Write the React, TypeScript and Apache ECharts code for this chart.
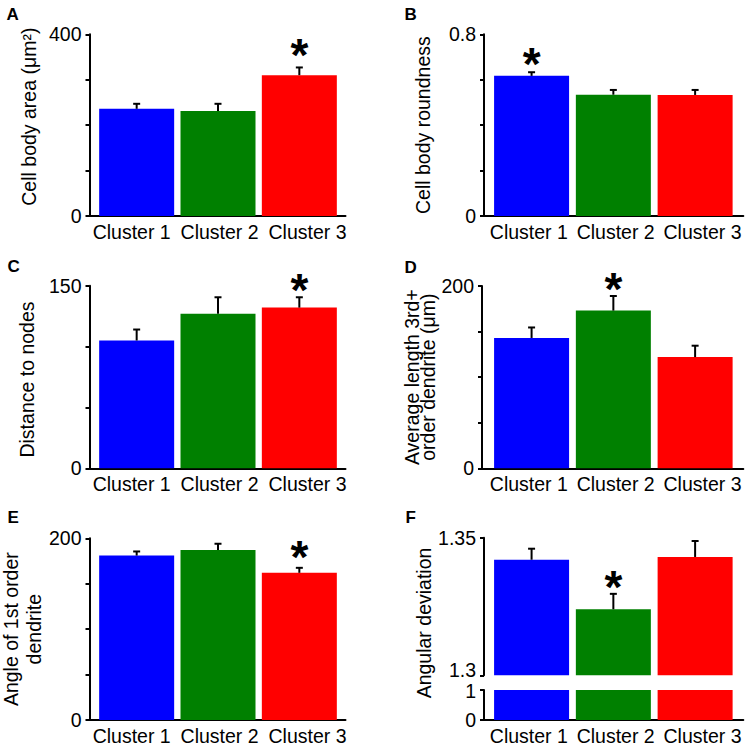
import React, { useEffect, useRef } from 'react';
import * as echarts from 'echarts';

const FONT = "'Liberation Sans', Arial, Helvetica, sans-serif";

const clusters = ['Cluster 1', 'Cluster 2', 'Cluster 3'];
const barColors = ['#0000ff', '#008000', '#ff0000'];

// Panel A
const cellBodyAreaMean = [236, 231, 310];
const cellBodyAreaSem = [11, 16, 17];
const cellBodyAreaTicks = [0, 400];
// Panel B
const roundnessMean = [0.617, 0.534, 0.533];
const roundnessSem = [0.016, 0.021, 0.022];
const roundnessTicks = [0, 0.8];
// Panel C
const distanceMean = [105, 127, 132];
const distanceSem = [9, 13.5, 8.5];
const distanceTicks = [0, 150];
// Panel D
const avgLengthMean = [143, 173, 122];
const avgLengthSem = [11.5, 16, 12.5];
const avgLengthTicks = [0, 200];
// Panel E
const angleMean = [181, 187, 162];
const angleSem = [4.5, 7, 5.5];
const angleTicks = [0, 200];
// Panel F (broken axis)
const angDevMean = [1.342, 1.324, 1.343];
const angDevSem = [0.004, 0.0056, 0.0058];
const angDevTicksTop = [1.3, 1.35];
const angDevTicksBottom = [0, 1];

const COLS: any = {
  L: { axisX: 89.5, axisEnd: 345.5, barsL: 96, barsW: 244, labL: 87.75, labW: 263.7 },
  R: { axisX: 484, axisEnd: 743.3, barsL: 490.7, barsW: 245.3, labL: 485.4, labW: 260.5 },
};

const fmt = (ticks: number[], shifted?: number, cls?: string) => (v: number) => {
  const t = ticks.find((x) => Math.abs(x - v) < 1e-9);
  if (t === undefined) return '';
  if (shifted !== undefined && Math.abs(t - shifted) < 1e-9) return '{' + cls + '|' + String(t) + '}';
  return String(t);
};

const makeErrRender = (starGap: number) => (params: any, api: any) => {
  const i = api.value(0);
  const m = api.value(1);
  const e = api.value(2);
  const sig = api.value(3);
  const p0 = api.coord([i, m]);
  const p1 = api.coord([i, m + e]);
  const children: any[] = [
    { type: 'line', shape: { x1: p0[0], y1: p0[1], x2: p1[0], y2: p1[1] }, style: { stroke: '#000', lineWidth: 2 } },
    { type: 'line', shape: { x1: p1[0] - 3.5, y1: p1[1], x2: p1[0] + 3.5, y2: p1[1] }, style: { stroke: '#000', lineWidth: 2 } },
  ];
  if (sig) {
    children.push({
      type: 'text',
      x: p1[0],
      y: p1[1] - starGap + 7.5,
      style: { text: '*', fontSize: 46, fontWeight: 'bold', fontFamily: FONT, fill: '#000', align: 'center', verticalAlign: 'middle' },
    });
  }
  return { type: 'group', children };
};

function buildOption() {
  const grid: any[] = [];
  const xAxis: any[] = [];
  const yAxis: any[] = [];
  const series: any[] = [];

  const axisLine = { show: true, lineStyle: { color: '#000', width: 2 } };
  const tickStyle = { show: true, inside: false, length: 4, lineStyle: { color: '#000', width: 2 } };
  const labelStyle = { fontSize: 19.5, color: '#000', fontFamily: FONT };

  const addGrid = (left: number, top: number, width: number, height: number) => {
    grid.push({ left, top, width, height, containLabel: false, outerBoundsMode: 'none' });
    return grid.length - 1;
  };

  const addFrame = (p: any, top: number, bottom: number, min: number, max: number, interval: number, ticks: number[], showX: boolean, name?: string, shifted?: number, cls?: string) => {
    const c = COLS[p.col];
    const ax = p.axisX ?? c.axisX;
    const g = addGrid(ax, top, c.axisEnd - ax, bottom - top);
    xAxis.push({
      gridIndex: g, type: 'value', min: 0, max: 1, show: showX,
      axisLine, axisTick: { show: false }, axisLabel: { show: false }, splitLine: { show: false },
    });
    yAxis.push({
      gridIndex: g, type: 'value', min, max, interval,
      axisLine, axisTick: tickStyle,
      axisLabel: {
        ...labelStyle, margin: 8, formatter: fmt(ticks, shifted, cls), showMinLabel: true, showMaxLabel: true,
        rich: {
          up: { ...labelStyle, padding: [0, 0, 10, 0] },
          down: { ...labelStyle, padding: [2, 0, 0, 0] },
        },
      },
      splitLine: { show: false },
      name: name, nameLocation: 'middle', nameRotate: 90, nameGap: p.nameGap,
      nameTextStyle: { ...labelStyle, lineHeight: p.lineHeight ?? 22, padding: p.namePadding ?? 0 },
    });
  };

  const addLabels = (p: any, top: number, bottom: number) => {
    const c = COLS[p.col];
    const g = addGrid(c.labL, top, c.labW, bottom - top);
    xAxis.push({
      gridIndex: g, type: 'category', data: clusters,
      axisLine: { show: false }, axisTick: { show: false },
      axisLabel: { ...labelStyle, margin: 6, interval: 0 },
    });
    yAxis.push({ gridIndex: g, type: 'value', min: 0, max: 1, show: false });
  };

  const addBars = (p: any, top: number, bottom: number, min: number, max: number, mean: number[], sem: number[] | null, sig: number) => {
    const c = COLS[p.col];
    const g = addGrid(c.barsL, top, c.barsW, bottom - top);
    xAxis.push({ gridIndex: g, type: 'category', data: clusters, show: false });
    yAxis.push({ gridIndex: g, type: 'value', min, max, show: false });
    const xi = xAxis.length - 1;
    const yi = yAxis.length - 1;
    series.push({
      type: 'bar', xAxisIndex: xi, yAxisIndex: yi, barWidth: 75, clip: true,
      data: mean.map((v, i) => ({ value: v, itemStyle: { color: barColors[i] } })),
    });
    if (sem) {
      series.push({
        type: 'custom', xAxisIndex: xi, yAxisIndex: yi, z: 10, clip: false,
        renderItem: makeErrRender(p.starGap),
        data: mean.map((v, i) => [i, v, sem[i], i === sig ? 1 : 0]),
      });
    }
  };

  const panels = [
    { col: 'L', top: 34.3, bottom: 216, name: 'Cell body area (μm²)', nameGap: 50, namePadding: [0, 0, 0, 17], starGap: 20, max: 400, interval: 100, ticks: cellBodyAreaTicks, mean: cellBodyAreaMean, sem: cellBodyAreaSem, sig: 2 },
    { col: 'R', top: 34.3, bottom: 216, name: 'Cell body roundness', nameGap: 50, starGap: 15.5, max: 0.8, interval: 0.2, ticks: roundnessTicks, mean: roundnessMean, sem: roundnessSem, sig: 0 },
    { col: 'L', top: 285.7, bottom: 468.3, name: 'Distance to nodes', nameGap: 52, namePadding: [0, 5, 0, 0], starGap: 14.5, max: 150, interval: 50, ticks: distanceTicks, mean: distanceMean, sem: distanceSem, sig: 2 },
    { col: 'R', axisX: 482, top: 286, bottom: 468.3, name: 'Average length 3rd+\norder dendrite (μm)', nameGap: 44, lineHeight: 16, starGap: 14.5, max: 200, interval: 50, ticks: avgLengthTicks, mean: avgLengthMean, sem: avgLengthSem, sig: 1 },
    { col: 'L', top: 538.3, bottom: 720, name: 'Angle of 1st order\ndendrite', nameGap: 44, lineHeight: 22.5, starGap: 18, max: 200, interval: 50, ticks: angleTicks, mean: angleMean, sem: angleSem, sig: 2 },
  ];

  panels.forEach((p) => {
    addFrame(p, p.top, p.bottom, 0, p.max, p.interval, p.ticks, true, p.name);
    addLabels(p, p.top, p.bottom);
    addBars(p, p.top, p.bottom, 0, p.max, p.mean, p.sem, p.sig);
  });

  // Panel F: broken axis
  const pf: any = { col: 'R', nameGap: 50, starGap: 14.5 };
  addFrame(pf, 537.7, 675.3, 1.3, 1.35, 0.05, angDevTicksTop, false, undefined, 1.3, 'up');
  addFrame(pf, 690, 720, 0, 1, 1, angDevTicksBottom, true, undefined, 1, 'down');
  // name-only axis spanning the whole panel height
  {
    const c = COLS.R;
    const g = addGrid(c.axisX, 532, c.axisEnd - c.axisX, 182);
    xAxis.push({ gridIndex: g, type: 'value', min: 0, max: 1, show: false });
    yAxis.push({
      gridIndex: g, type: 'value', min: 0, max: 1,
      axisLine: { show: false }, axisTick: { show: false }, axisLabel: { show: false }, splitLine: { show: false },
      name: 'Angular deviation', nameLocation: 'middle', nameRotate: 90, nameGap: 50,
      nameTextStyle: { ...labelStyle },
    });
  }
  addLabels(pf, 690, 720);
  addBars(pf, 537.7, 675.3, 1.3, 1.35, angDevMean, angDevSem, 1);
  addBars(pf, 690, 720, 0, 1, angDevMean, null, -1);

  const letters = [
    { t: 'A', x: 6.5, y: 5.5 },
    { t: 'B', x: 404.5, y: 6 },
    { t: 'C', x: 7.5, y: 257.5 },
    { t: 'D', x: 404.5, y: 258.5 },
    { t: 'E', x: 7.5, y: 509 },
    { t: 'F', x: 405.5, y: 509 },
  ];

  return {
    animation: false,
    backgroundColor: '#fff',
    textStyle: { fontFamily: FONT },
    grid, xAxis, yAxis, series,
    graphic: letters.map((l) => ({
      type: 'text', x: l.x, y: l.y,
      style: { text: l.t, fontSize: 17, fontWeight: 'bold', fontFamily: FONT, fill: '#000', verticalAlign: 'top', align: 'left' },
    })),
  };
}

export default function App() {
  const ref = useRef<HTMLDivElement>(null);
  useEffect(() => {
    if (!ref.current) return;
    const chart = echarts.init(ref.current, undefined, { renderer: 'svg' });
    chart.setOption(buildOption() as any);
    return () => chart.dispose();
  }, []);
  return <div ref={ref} style={{ position: 'fixed', left: 0, top: 0, width: 751, height: 749, background: '#fff' }} />;
}
